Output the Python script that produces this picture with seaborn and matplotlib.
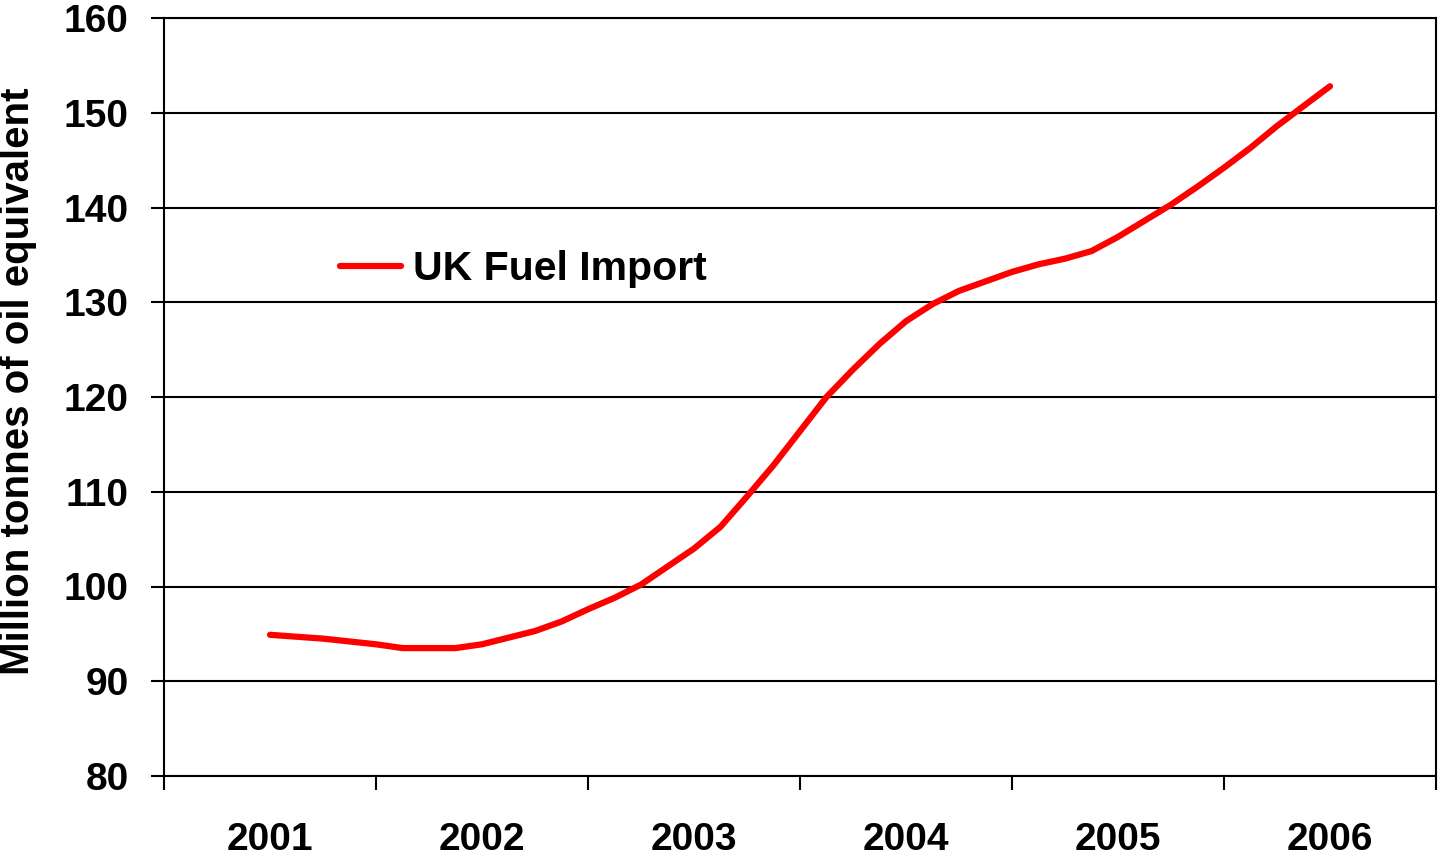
import numpy as np
import pandas as pd
import matplotlib
matplotlib.use("Agg")
import matplotlib.pyplot as plt
import seaborn as sns

# UK fuel import at 1/8-year steps from 2001 to 2006
years = [2001, 2002, 2003, 2004, 2005, 2006]
steps_per_year = 8
imports = [94.9, 94.7, 94.5, 94.2, 93.9, 93.5, 93.5, 93.5,
           93.9, 94.6, 95.3, 96.3, 97.6, 98.8, 100.2, 102.1,
           104.0, 106.3, 109.5, 112.8, 116.4, 120.0, 122.9, 125.6,
           128.0, 129.8, 131.2, 132.2, 133.2, 134.0, 134.6, 135.4,
           136.9, 138.6, 140.3, 142.2, 144.2, 146.3, 148.6, 150.7,
           152.8]
y_ticks = [80, 90, 100, 110, 120, 130, 140, 150, 160]

df = pd.DataFrame({
    "year": years[0] + np.arange(len(imports)) / steps_per_year,
    "import": imports,
})

sns.set_style("white")
plt.rcParams["font.family"] = ["Liberation Sans", "DejaVu Sans"]
plt.rcParams["text.color"] = "black"
plt.rcParams["axes.labelcolor"] = "black"
plt.rcParams["xtick.color"] = "black"
plt.rcParams["ytick.color"] = "black"

fig = plt.figure(figsize=(14.38, 8.59), dpi=100)
ax = fig.add_axes([164 / 1438, 1 - 776 / 859, (1436 - 164) / 1438, (776 - 18) / 859])

sns.lineplot(data=df, x="year", y="import", ax=ax, color="#ff0000",
             linewidth=4.5, solid_capstyle="round", label="UK Fuel Import")

ax.set_xlim(years[0] - 0.5, years[-1] + 0.5)
ax.set_ylim(80, 160)
ax.set_yticks(y_ticks)
ax.set_xticks(years)
ax.set_xticks([y - 0.5 for y in years] + [years[-1] + 0.5], minor=True)

ax.yaxis.grid(True, color="black", linewidth=1.5)
ax.xaxis.grid(False)
ax.set_axisbelow(True)

for sp in ax.spines.values():
    sp.set_color("black")
    sp.set_linewidth(1.5)

ax.tick_params(axis="y", which="major", left=True, direction="out", length=9.5,
               width=1.5, pad=16, labelsize=28)
ax.tick_params(axis="x", which="major", bottom=True, length=0, pad=33, labelsize=28)
ax.tick_params(axis="x", which="minor", bottom=True, direction="out", length=10,
               width=1.5)
for lab in ax.get_xticklabels() + ax.get_yticklabels():
    lab.set_fontweight("bold")

ax.set_xlabel("")
ax.set_ylabel("Million tonnes of oil equivalent", fontsize=29, fontweight="bold")
ax.yaxis.set_label_coords(-0.1, 0.521)

leg = ax.legend(loc="upper left", bbox_to_anchor=(0.1255, 0.715), frameon=False,
                prop={"size": 29.5, "weight": "bold"}, handlelength=1.5,
                handletextpad=0.27, borderaxespad=0)

fig.savefig("out.png", dpi=100)
